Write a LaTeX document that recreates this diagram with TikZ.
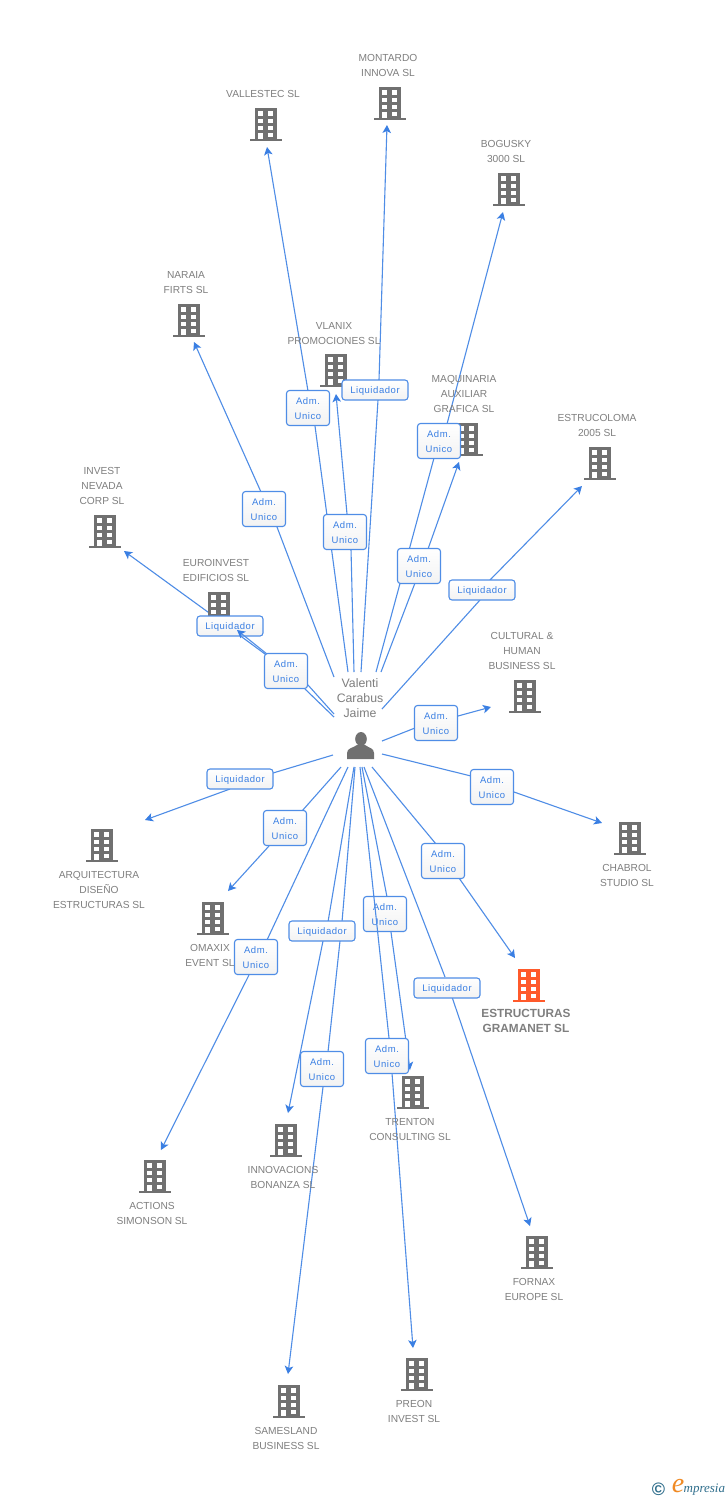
\documentclass[tikz,border=0pt]{standalone}
\usepackage{fontspec}
\setmainfont{Liberation Sans}
\newfontfamily\lblfont[LetterSpace=6]{Liberation Sans}
\newfontfamily\logofont{Liberation Serif}
\usetikzlibrary{arrows.meta,backgrounds}
\definecolor{linkblue}{HTML}{4F8DE6}
\definecolor{tipblue}{HTML}{3A7FE3}
\definecolor{bldgrey}{HTML}{707070}
\definecolor{bldred}{HTML}{FF5A2B}
\definecolor{txtgrey}{HTML}{7F7F7F}
\definecolor{logoteal}{HTML}{2F6E8C}
\definecolor{logoorange}{HTML}{F08A24}
\tikzset{
  building/.pic={
    \fill[pic actions] (-11,-33) rectangle (11,0);
    \fill[pic actions] (-16,-2) rectangle (16,0);
    \fill[white] (-7.7,-29.7) rectangle (-2.7,-25.3);
    \fill[white] (2.3,-29.7) rectangle (7.3,-25.3);
    \fill[white] (-7.7,-22.3) rectangle (-2.7,-17.9);
    \fill[white] (2.3,-22.3) rectangle (7.3,-17.9);
    \fill[white] (-7.7,-15.3) rectangle (-2.7,-10.9);
    \fill[white] (2.3,-15.3) rectangle (7.3,-10.9);
    \fill[white] (-7.7,-8.5) rectangle (-2.7,-2);
    \fill[white] (2.3,-8.3) rectangle (7.3,-3.9);
  },
  bgrey/.style={fill=bldgrey},
  bred/.style={fill=bldred},
  name text/.style={font=\fontsize{10.2}{15}\selectfont,text=txtgrey,align=center,inner sep=0pt,yshift=-0.8pt},
  boss text/.style={font=\fontsize{11.8}{15}\selectfont\bfseries,text=txtgrey,align=center,inner sep=0pt,yshift=-0.5pt},
  person text/.style={font=\fontsize{12.3}{15}\selectfont,text=txtgrey,align=center,inner sep=0pt},
  lab/.style={draw=linkblue,line width=1.1pt,rounded corners=3pt,top color=white,bottom color=white!95!black,
    text=tipblue,font=\lblfont\fontsize{9.5}{15}\selectfont,align=center,inner sep=0pt},
  adm/.style={lab,minimum width=43pt,minimum height=35pt},
  liq/.style={lab,minimum width=66pt,minimum height=20pt},
  conn/.style={draw=linkblue,line width=1.1pt},
  tipconn/.style={conn,-{Stealth[length=8pt,width=8.5pt,inset=2pt,color=tipblue]}},
}
\newcommand{\AdmTxt}{\rule{0pt}{9pt}Adm.\\Unico}
\newcommand{\LiqTxt}{\rule{0pt}{9.5pt}Liquidador}
% id, start, label node, entry offset in the label, exit offset in the label, tip
\newcommand{\lnk}[6]{%
  \coordinate (s#1) at (#2);
  \coordinate (t#1) at (#6);
  \draw[conn] (s#1) -- ([shift={(#4)}]#3.center);
  \draw[tipconn] ([shift={(#5)}]#3.center) -- (t#1);
}
\begin{document}
\begin{tikzpicture}[x=1pt,y=-1pt]
\useasboundingbox (0,0) rectangle (728,1500);
\begin{scope}[on background layer]
  \fill[white] (0,0) rectangle (728,1500);
\end{scope}

% buildings (origin: centre of the base, at its lower edge)
\pic[bgrey] at (390,120) {building};
\pic[bgrey] at (266,141) {building};
\pic[bgrey] at (509,206) {building};
\pic[bgrey] at (189,337) {building};
\pic[bgrey] at (336,387) {building};
\pic[bgrey] at (467,456) {building};
\pic[bgrey] at (600,480) {building};
\pic[bgrey] at (105,548) {building};
\pic[bgrey] at (219,625) {building};
\pic[bgrey] at (525,713) {building};
\pic[bgrey] at (630,855) {building};
\pic[bgrey] at (102,862) {building};
\pic[bgrey] at (213,935) {building};
\pic[bred]  at (529,1002) {building};
\pic[bgrey] at (413,1109) {building};
\pic[bgrey] at (286,1157) {building};
\pic[bgrey] at (155,1193) {building};
\pic[bgrey] at (537,1269) {building};
\pic[bgrey] at (417,1391) {building};
\pic[bgrey] at (289,1418) {building};

% company names
\node[name text] (nMontardo) at (388,64.5) {MONTARDO\\INNOVA SL};
\node[name text] (nVallestec) at (263,93) {VALLESTEC SL};
\node[name text] (nBogusky) at (506,150.5) {BOGUSKY\\3000 SL};
\node[name text] (nNaraia) at (186,281.5) {NARAIA\\FIRTS SL};
\node[name text] (nVlanix) at (334,332.5) {VLANIX\\PROMOCIONES SL};
\node[name text] (nMaquinaria) at (464,393) {MAQUINARIA\\AUXILIAR\\GRAFICA SL};
\node[name text] (nEstrucoloma) at (597,424.5) {ESTRUCOLOMA\\2005 SL};
\node[name text] (nInvest) at (102,485) {INVEST\\NEVADA\\CORP SL};
\node[name text] (nEuroinvest) at (216,569.5) {EUROINVEST\\EDIFICIOS SL};
\node[name text] (nCultural) at (522,650) {CULTURAL \&\\HUMAN\\BUSINESS SL};
\node[name text] (nChabrol) at (627,874.5) {CHABROL\\STUDIO SL};
\node[name text] (nArquitectura) at (99,889) {ARQUITECTURA\\DISEÑO\\ESTRUCTURAS SL};
\node[name text] (nOmaxix) at (210,954.5) {OMAXIX\\EVENT SL};
\node[boss text] (nEstructuras) at (526,1020.5) {ESTRUCTURAS\\GRAMANET SL};
\node[name text] (nTrenton) at (410,1128.5) {TRENTON\\CONSULTING SL};
\node[name text] (nInnovacions) at (283,1176.5) {INNOVACIONS\\BONANZA SL};
\node[name text] (nActions) at (152,1212.5) {ACTIONS\\SIMONSON SL};
\node[name text] (nFornax) at (534,1288.5) {FORNAX\\EUROPE SL};
\node[name text] (nPreon) at (414,1410.5) {PREON\\INVEST SL};
\node[name text] (nSamesland) at (286,1437.5) {SAMESLAND\\BUSINESS SL};

% person
\node[person text] (person) at (360,698) {Valenti\\Carabus\\Jaime};
\fill[bldgrey] (361,739) ellipse (5.8 and 7);
\fill[bldgrey] (347,759) -- (347,753) .. controls (347,748) and (353,748) .. (357,745)
  -- (365,745) .. controls (369,748) and (374,748) .. (374,753) -- (374,759) -- cycle;

% role labels
\node[adm] (a1) at (308,408) {\AdmTxt};
\node[adm] (a2) at (264,509) {\AdmTxt};
\node[adm] (a3) at (345,532) {\AdmTxt};
\node[adm] (a4) at (439,441) {\AdmTxt};
\node[adm] (a5) at (419,566) {\AdmTxt};
\node[adm] (a6) at (286,671) {\AdmTxt};
\node[adm] (a7) at (436,723) {\AdmTxt};
\node[adm] (a8) at (492,787) {\AdmTxt};
\node[adm] (a9) at (285,828) {\AdmTxt};
\node[adm] (a10) at (443,861) {\AdmTxt};
\node[adm] (a11) at (385,914) {\AdmTxt};
\node[adm] (a12) at (256,957) {\AdmTxt};
\node[adm] (a13) at (322,1069) {\AdmTxt};
\node[adm] (a14) at (387,1056) {\AdmTxt};
\node[liq] (l1) at (375,390) {\LiqTxt};
\node[liq] (l2) at (482,590) {\LiqTxt};
\node[liq] (l3) at (230,626) {\LiqTxt};
\node[liq] (l4) at (240,779) {\LiqTxt};
\node[liq] (l5) at (322,931) {\LiqTxt};
\node[liq] (l6) at (447,988) {\LiqTxt};

% connectors, under the labels
\begin{scope}[on background layer]
  \lnk{1}{348,672}{a1}{7,18}{0,-17}{267,147}
  \lnk{2}{334,677}{a2}{13,18}{-3,-17}{194,342}
  \lnk{3}{354,672}{a3}{6,17}{2,-18}{336,394}
  \lnk{4}{376,672}{a4}{-5,17}{8,-17}{503,212}
  \lnk{5}{381,672}{a5}{-4,17}{9,-17}{459,462}
  \lnk{6}{361,672}{l1}{3,10}{4,-10}{387,125}
  \lnk{7}{382,709}{l2}{-2,10}{8,-10}{582,486}
  \lnk{10}{382,741}{a7}{-21,5}{22,-7}{491,707}
  \lnk{11}{382,754}{a8}{-21,-11}{22,5}{602,823}
  \lnk{12}{333,755}{l4}{33,-6}{-10,10}{145,820}
  \lnk{13}{341,767}{a9}{17,-17}{-16,18}{228,891}
  \lnk{14}{372,767}{a10}{-7,-17}{16,17}{515,958}
  \lnk{15}{362,767}{a11}{2,-17}{6,18}{410,1070}
  \lnk{16}{348,767}{a12}{11,-17}{-7,18}{161,1150}
  \lnk{17}{354,767}{l5}{6,-9}{1,10}{288,1113}
  \lnk{20}{364,767}{l6}{-2,-11}{5,9}{530,1226}
  % Samesland: passes under two labels
  \coordinate (s18) at (355,767);
  \coordinate (t18) at (288,1374);
  \draw[conn] (s18) -- ([shift={(20,-9)}]l5.center);
  \draw[conn] ([shift={(18,10)}]l5.center) -- ([shift={(6,-17)}]a13.center);
  \draw[tipconn] ([shift={(1,18)}]a13.center) -- (t18);
  % Invest: passes under two labels
  \coordinate (s8) at (334,714);
  \coordinate (t8) at (124,551);
  \draw[conn] (s8) -- ([shift={(22,14)}]a6.center) -- ([shift={(-21,-17)}]a6.center)
    -- ([shift={(-18,-11)}]l3.center);
  \draw[tipconn] ([shift={(-18,-11)}]l3.center) -- (t8);
  % Euroinvest, first part
  \coordinate (s9) at (334,717);
  \draw[conn] (s9) -- ([shift={(19,18)}]a6.center);
  % Preon, second part
  \coordinate (t19) at (413,1348);
  \draw[tipconn] ([shift={(5,17)}]a14.center) -- (t19);
\end{scope}
% Euroinvest's arrowhead lies on top of the Liquidador label
\coordinate (t9) at (237,630);
\draw[tipconn] ([shift={(-19,-17)}]a6.center) -- (t9);
% Preon's first part crosses over the label it passes
\coordinate (s19) at (360,767);
\draw[conn] (s19) -- ([shift={(2,-18)}]a14.center);

% logo
\node[inner sep=0pt,text=logoteal,font=\fontsize{18}{18}\selectfont\bfseries] (copy) at (658.5,1489) {©};
\node[inner sep=0pt,text=logoorange,font=\logofont\itshape\fontsize{28}{28}\selectfont] (loge) at (678,1486) {e};
\node[inner sep=0pt,text=logoteal,font=\logofont\itshape\fontsize{13}{13}\selectfont,anchor=west] (logt) at (683.5,1490) {mpresia};
\end{tikzpicture}
\end{document}
